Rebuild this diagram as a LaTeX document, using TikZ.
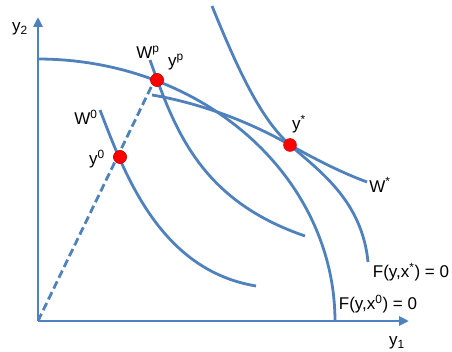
\documentclass[tikz,border=0pt]{standalone}
\usepackage{fontspec}
\setmainfont{Liberation Sans}
\usetikzlibrary{arrows.meta}
\definecolor{curveblue}{RGB}{79,129,189}
\begin{document}
\begin{tikzpicture}[x=1pt,y=-1pt,
  curve/.style={draw=curveblue,line width=2.8pt},
  axisline/.style={curve,-{Triangle[length=10pt,width=9pt]}},
  dashline/.style={curve,dash pattern=on 8pt off 4pt},
  dot/.style={circle,fill=red,draw=red!75!black,line width=0.4pt,minimum size=13pt,inner sep=0pt},
  lab/.style={font=\fontsize{17}{20}\selectfont,inner sep=0pt}]
\useasboundingbox (0,0) rectangle (452,352);
\coordinate (O) at (38,321);
\coordinate (ytop) at (38,17);
\coordinate (xend) at (409,321);
% frontier F(y,x0)=0
\draw[curve] plot[domain=0:90,samples=80] ({38+297*cos(\x)},{321-262*sin(\x)});
% frontier F(y,x*)=0
\draw[curve] (212,6) .. controls (240,75) and (262,120) .. (290,145)
                     .. controls (318,170) and (362,200) .. (368,262);
% W*
\draw[curve] (152,95) .. controls (200,103) and (250,122) .. (290,145)
                      .. controls (315,159) and (340,172) .. (367,182);
% Wp
\draw[curve] (150,60) .. controls (175,130) and (200,200) .. (305,236);
% W0
\draw[curve] (100,110) .. controls (125,175) and (160,270) .. (256,286);
% axes
\draw[axisline] (O) -- (ytop);
\draw[axisline] (O) -- (xend);
% dots
\node[dot] (yp) at (157,80) {};
\node[dot] (y0) at (120,157) {};
\node[dot] (ys) at (290,145) {};
\draw[dashline] (O) -- (yp.south west);
\node[dot] at (yp) {};
\node[dot] at (y0) {};
% labels
\node[lab] (ly2) at (20,29) {y\textsubscript{2}};
\node[lab] (ly1) at (397,343) {y\textsubscript{1}};
\node[lab] (lWp) at (148,52) {W\textsuperscript{p}};
\node[lab] (lyp) at (176,62) {y\textsuperscript{p}};
\node[lab] (lW0) at (86,117) {W\textsuperscript{0}};
\node[lab] (ly0) at (97,159) {y\textsuperscript{0}};
\node[lab] (lys) at (299,124) {y\textsuperscript{*}};
\node[lab] (lWs) at (380,185) {W\textsuperscript{*}};
\node[lab] (lFs) at (411,272) {F(y,x\textsuperscript{*}) = 0};
\node[lab] (lF0) at (378,304) {F(y,x\textsuperscript{0}) = 0};
\end{tikzpicture}
\end{document}
